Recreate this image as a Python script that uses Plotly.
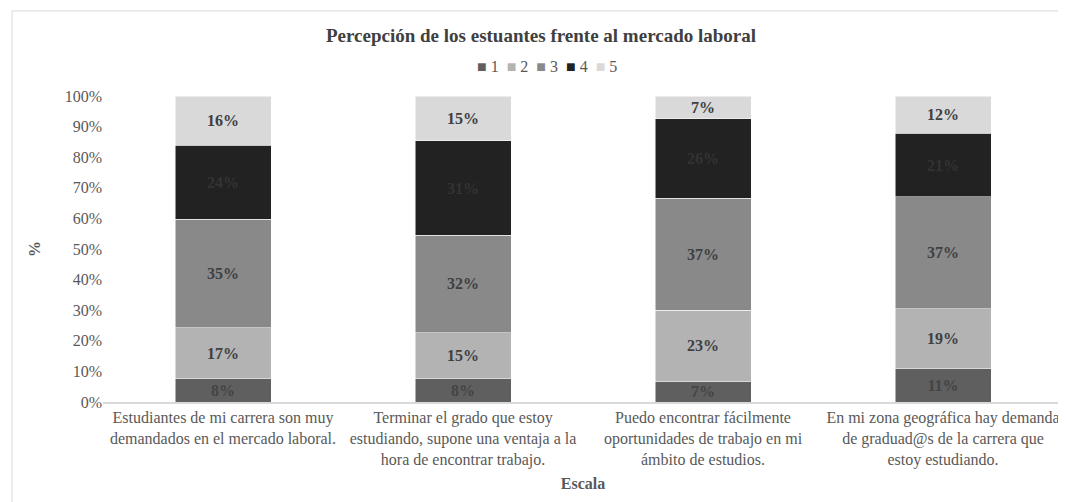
import plotly.graph_objects as go

categories = [
    "Estudiantes de mi carrera son muy<br>demandados en el mercado laboral.",
    "Terminar el grado que estoy<br>estudiando, supone una ventaja a la<br>hora de encontrar trabajo.",
    "Puedo encontrar fácilmente<br>oportunidades de trabajo en mi<br>ámbito de estudios.",
    "En mi zona geográfica hay demanda<br>de graduad@s de la carrera que<br>estoy estudiando.",
]
scale_names = ["1", "2", "3", "4", "5"]
scale_1 = [7.7, 7.7, 6.8, 11.0]
scale_2 = [16.6, 15.0, 23.2, 19.4]
scale_3 = [35.4, 31.8, 36.6, 36.6]
scale_4 = [24.2, 30.8, 26.0, 20.8]
scale_5 = [16.1, 14.7, 7.4, 12.2]

series = [scale_1, scale_2, scale_3, scale_4, scale_5]
fills = ["#5f5f5f", "#b3b3b3", "#898989", "#222222", "#d9d9d9"]
label_colors = ["#444444", "#404040", "#404040", "#333333", "#404040"]

FONT = "Liberation Serif, Times New Roman, serif"
GREY = "#595959"

fig = go.Figure()
for name, values, fill, lc in zip(scale_names, series, fills, label_colors):
    fig.add_trace(go.Bar(
        name=name,
        x=categories,
        y=values,
        width=0.4,
        marker=dict(color=fill, line=dict(color="#ffffff", width=0.5)),
        texttemplate="<b>%{y:.0f}%</b>",
        textposition="inside",
        insidetextanchor="middle",
        textangle=0,
        textfont=dict(family=FONT, size=16, color=lc),
        showlegend=False,
    ))

# legend drawn as a compact text row, like the original
legend_text = "&nbsp;&nbsp;".join(
    f"<span style='color:{c}'>■</span>&nbsp;{n}" for n, c in zip(scale_names, fills)
)

fig.update_layout(
    barmode="stack",
    width=1066,
    height=502,
    margin=dict(l=95, r=11, t=88, b=108),
    paper_bgcolor="white",
    plot_bgcolor="white",
    font=dict(family=FONT, size=16, color=GREY),
    uniformtext=dict(mode="show", minsize=16),
    title=dict(
        text="<b>Percepción de los estuantes frente al mercado laboral</b>",
        x=533 / 1066, xref="container", xanchor="center",
        y=1 - 27 / 502, yref="container", yanchor="middle",
        font=dict(family=FONT, size=19, color="#404040"),
    ),
    annotations=[dict(
        text=legend_text, xref="paper", yref="paper",
        x=0.4625, y=1.095, xanchor="center", yanchor="middle",
        showarrow=False, font=dict(family=FONT, size=16, color=GREY),
    )],
    shapes=[dict(
        type="rect", xref="paper", yref="paper",
        x0=-0.0948, x1=1.01, y0=-0.4, y1=1.278,
        line=dict(color="#d9d9d9", width=1),
    )],
)

fig.update_xaxes(
    showline=True, linecolor="#d9d9d9", linewidth=1.5,
    showgrid=False, ticks="",
    tickfont=dict(family=FONT, size=16, color=GREY),
    title=dict(text="<b>Escala</b>", font=dict(family=FONT, size=16, color=GREY), standoff=10),
)
fig.update_yaxes(
    range=[0, 100], dtick=10, ticksuffix="%",
    showgrid=False, showline=False, zeroline=False,
    tickfont=dict(family=FONT, size=16, color=GREY),
    title=dict(text="<b>%</b>", font=dict(family=FONT, size=16, color=GREY), standoff=20),
)

fig.write_html("out.html")
